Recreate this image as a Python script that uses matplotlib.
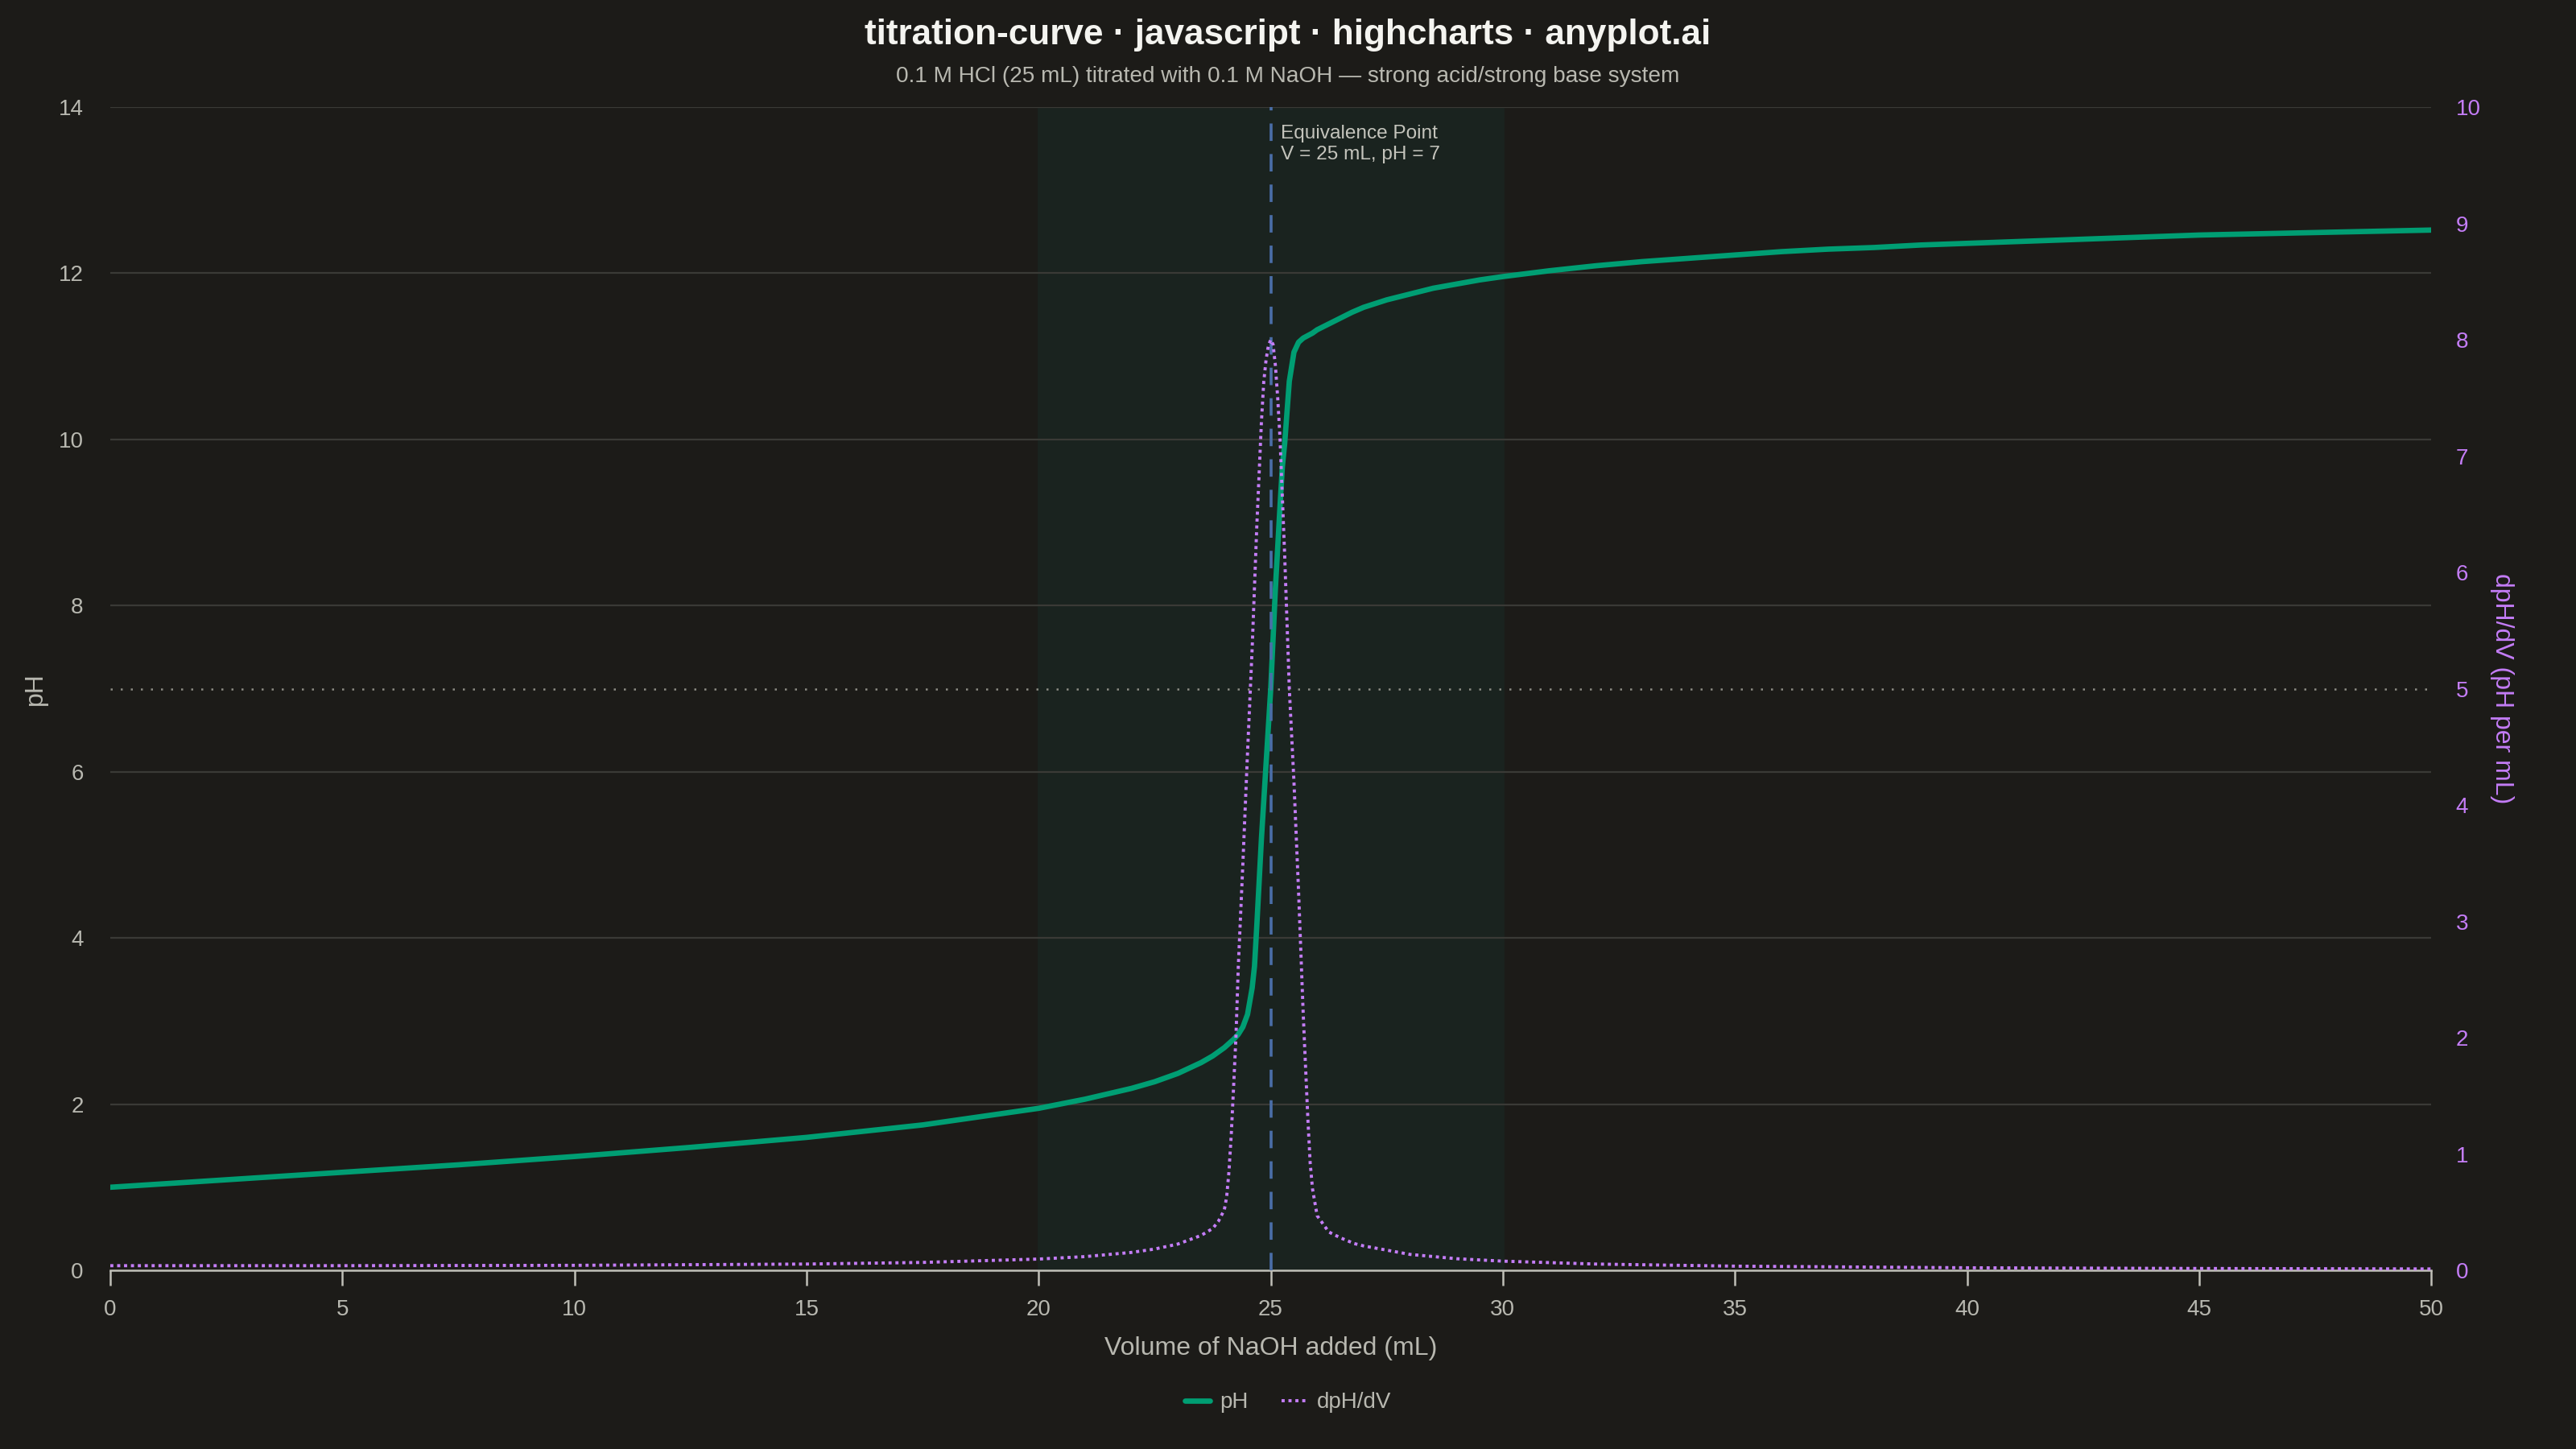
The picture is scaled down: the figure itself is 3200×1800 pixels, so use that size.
import matplotlib.pyplot as plt
from matplotlib.lines import Line2D

# volume of NaOH (mL) and pH
volume = [0, 2.5, 5, 7.5, 10, 12.5, 15, 17.5, 20, 21, 22, 22.5, 23, 23.5, 23.75, 24.0,
          24.2, 24.3, 24.4, 24.5, 24.6, 24.65, 24.7, 24.8, 24.9, 25.0, 25.1, 25.2, 25.25,
          25.3, 25.4, 25.5, 25.6, 25.7, 25.8, 25.9, 26.0, 26.25, 26.5, 26.75, 27, 27.5, 28,
          28.5, 29, 29.5, 30, 31, 32, 33, 34, 35, 36, 37, 38, 39, 40, 42.5, 45, 47.5, 50]
ph = [1.00, 1.09, 1.18, 1.27, 1.37, 1.48, 1.60, 1.75, 1.95, 2.06, 2.19, 2.27, 2.37, 2.50, 2.58, 2.68,
      2.78, 2.84, 2.93, 3.08, 3.40, 3.66, 4.15, 5.20, 6.10, 7.00, 8.20, 9.20, 9.67,
      9.95, 10.70, 11.05, 11.17, 11.22, 11.25, 11.28, 11.32, 11.39, 11.46, 11.53, 11.59, 11.68, 11.75,
      11.82, 11.87, 11.92, 11.96, 12.03, 12.09, 12.14, 12.18, 12.22, 12.26, 12.29, 12.31, 12.34, 12.36,
      12.41, 12.46, 12.49, 12.52]

# derivative curve
vol_d = [0, 5, 10, 15, 17.5, 20, 21, 22, 22.5, 23, 23.5, 23.75, 23.87, 24.0, 24.05, 24.1, 24.15,
         24.2, 24.25, 24.3, 24.4, 24.5, 24.6, 24.7, 24.8, 24.85, 24.9, 24.95, 25.0, 25.05, 25.1,
         25.15, 25.2, 25.3, 25.4, 25.5, 25.6, 25.7, 25.75, 25.8, 25.85, 25.9, 26.0, 26.25, 26.5,
         26.8, 27, 28, 29, 30, 32, 35, 40, 45, 50]
dph_dv = [0.040, 0.040, 0.043, 0.054, 0.068, 0.097, 0.118, 0.154, 0.183, 0.226, 0.30, 0.36, 0.42, 0.52, 0.63, 0.85, 1.17,
          1.58, 2.00, 2.60, 3.50, 4.45, 5.35, 6.40, 7.30, 7.64, 7.83, 7.95, 8.00, 7.96, 7.78,
          7.50, 7.15, 6.15, 5.00, 4.20, 3.25, 2.20, 1.75, 1.30, 0.92, 0.70, 0.47, 0.33, 0.28,
          0.23, 0.21, 0.137, 0.10, 0.079, 0.054, 0.036, 0.022, 0.016, 0.012]

BG = "#1c1b18"
TXT = "#b8b8b0"
GREEN = "#009e73"
PURPLE = "#c47df7"

plt.rcParams["font.family"] = ["Liberation Sans", "DejaVu Sans"]

fig = plt.figure(figsize=(16, 9), dpi=200, facecolor=BG)
ax = fig.add_axes([0.0428, 0.1233, 0.9010, 0.8028])
ax.set_facecolor(BG)
ax2 = ax.twinx()

# highlighted zone and reference lines
ax.axvspan(20, 30, color="#1a231f", zorder=0)
for y in range(2, 15, 2):
    ax.axhline(y, color="#3a3a36", lw=0.8, zorder=1)
ax.axhline(7, color="#8c8c84", lw=0.9, ls=(0, (1, 4)), zorder=1)
ax.axvline(25, color="#4a6ea8", lw=1.3, ls=(0, (6, 4.5)), zorder=4)
ax.text(25.22, 13.79, "Equivalence Point\nV = 25 mL, pH = 7", color="#c4c4bc", fontsize=8.8,
        va="top", ha="left", linespacing=1.25, zorder=5)

ax.plot(volume, ph, color=GREEN, lw=2.4, zorder=3, solid_capstyle="round", solid_joinstyle="round")
ax2.plot(vol_d, dph_dv, color=PURPLE, lw=1.4, ls=(0, (1, 1.2)), zorder=3)

ax.set_xlim(0, 50)
ax.set_ylim(0, 14)
ax2.set_ylim(0, 10)
ax.set_xticks(range(0, 51, 5))
ax.set_yticks(range(0, 15, 2))
ax2.set_yticks(range(0, 11, 1))

for s in ["top", "right", "left"]:
    ax.spines[s].set_visible(False)
    ax2.spines[s].set_visible(False)
ax2.spines["bottom"].set_visible(False)
ax.spines["bottom"].set_color("#c0c0b8")
ax.spines["bottom"].set_linewidth(0.9)

ax.tick_params(axis="x", colors="#c0c0b8", labelcolor=TXT, labelsize=10, length=7, width=0.9, pad=6)
ax.tick_params(axis="y", length=0, labelcolor=TXT, labelsize=10, pad=12)
ax2.tick_params(axis="y", length=0, labelcolor=PURPLE, labelsize=10, pad=11)

ax.set_xlabel("Volume of NaOH added (mL)", color=TXT, fontsize=11.5, labelpad=7)
ax.set_ylabel("pH", color=TXT, fontsize=11.5, labelpad=5)
ax2.set_ylabel("dpH/dV (pH per mL)", color=PURPLE, fontsize=11.5, rotation=270, labelpad=15)

fig.text(0.5, 0.976, "titration-curve · javascript · highcharts · anyplot.ai", ha="center", va="center",
         color="#f4f4f0", fontsize=15.9, fontweight="bold")
fig.text(0.5, 0.947, "0.1 M HCl (25 mL) titrated with 0.1 M NaOH — strong acid/strong base system",
         ha="center", va="center", color=TXT, fontsize=10.1)

handles = [Line2D([], [], color=GREEN, lw=2.4, solid_capstyle="round"),
           Line2D([], [], color=PURPLE, lw=1.4, ls=(0, (1, 1.2)))]
leg = fig.legend(handles, ["pH", "dpH/dV"], loc="center", bbox_to_anchor=(0.5, 0.032), ncol=2,
                 frameon=False, fontsize=10, handlelength=1.1, columnspacing=1.5, handletextpad=0.45)
for t in leg.get_texts():
    t.set_color(TXT)

fig.savefig("out.png", dpi=200, facecolor=BG)
